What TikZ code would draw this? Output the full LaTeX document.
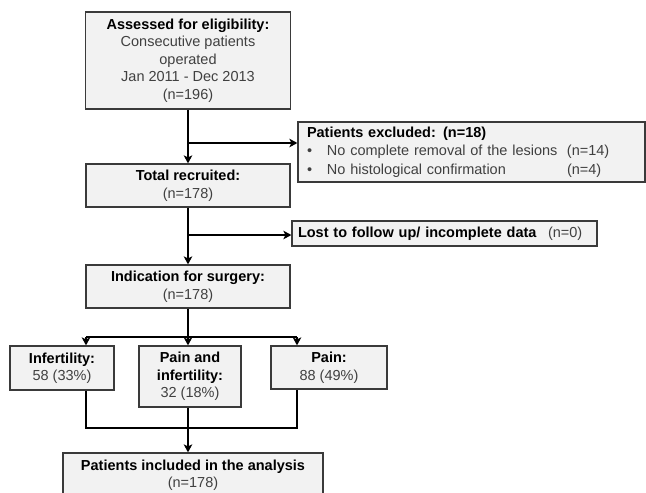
\documentclass[tikz,border=0pt]{standalone}
\usepackage{fontspec}
\setmainfont{Liberation Sans}
\usetikzlibrary{arrows.meta}
\definecolor{boxfill}{HTML}{F2F2F2}
\definecolor{boxdraw}{HTML}{3A3A3A}
\definecolor{txtgray}{HTML}{404040}
\begin{document}
\begin{tikzpicture}[x=1pt,y=-1pt,
  box/.style={draw=boxdraw,fill=boxfill,line width=1.2pt,inner sep=0pt,align=center,
    text=txtgray,font=\fontsize{14.5}{17.5}\selectfont},
  conn/.style={line width=1.8pt,black},
  arr/.style={conn,-{Stealth[length=8pt,width=8.5pt,inset=2pt]}}]
\useasboundingbox (0,0) rectangle (646,493);
\clip (0,0) rectangle (646,493);
\fill[white] (0,0) rectangle (646,493);

\node[box,minimum width=205,minimum height=97] (A) at (188,60.5)
  {\textcolor{black}{\textbf{Assessed for eligibility:}}\\Consecutive patients\\operated\\Jan 2011 - Dec 2013\\(n=196)};
\node[box,minimum height=60,text width=329,inner xsep=9pt,align=left,
  font=\fontsize{14.5}{18.5}\selectfont] (Ex) at (471.5,152)
  {\renewcommand{\arraystretch}{1.0}\begin{tabular}{@{}p{20pt}@{}p{240pt}@{}l@{}}
  \multicolumn{3}{@{}l@{}}{\textcolor{black}{\textbf{Patients excluded: (n=18)}}}\\
  \textbullet & No complete removal of the lesions & (n=14)\\
  \textbullet & No histological confirmation & (n=4)
  \end{tabular}};
\node[box,minimum width=204,minimum height=43] (B) at (188,185.5)
  {\textcolor{black}{\textbf{Total recruited:}}\\(n=178)};
\node[box,minimum height=25,text width=293,inner xsep=6pt,align=left] (L) at (444.5,233.5)
  {\makebox[250pt][l]{\textcolor{black}{\textbf{Lost to follow up/ incomplete data}}}(n=0)};
\node[box,minimum width=204,minimum height=43] (C) at (188,286.5)
  {\textcolor{black}{\textbf{Indication for surgery:}}\\(n=178)};
\node[box,minimum width=104,minimum height=44] (I) at (62,368)
  {\textcolor{black}{\textbf{Infertility:}}\\58 (33\%)};
\node[box,minimum width=102,minimum height=61] (P) at (190,376.5)
  {\textcolor{black}{\textbf{Pain and}}\\\textcolor{black}{\textbf{infertility:}}\\32 (18\%)};
\node[box,minimum width=116,minimum height=43] (Q) at (329,367.5)
  {\textcolor{black}{\textbf{Pain:}}\\88 (49\%)};
\node[box,minimum width=260,minimum height=44] (F) at (193,475)
  {\textcolor{black}{\textbf{Patients included in the analysis}}\\(n=178)};

\coordinate (j1) at (188,143);
\coordinate (j2) at (188,235);
\coordinate (s) at (188,337);
\coordinate (sl) at (86,337);
\coordinate (sr) at (297,337);
\coordinate (ml) at (86,428);
\coordinate (mr) at (297,428);

\draw[arr] (A) -- (B);
\draw[arr] (j1) -- (j1 -| Ex.west);
\draw[arr] (B) -- (C);
\draw[arr] (j2) -- (j2 -| L.west);
\draw[conn] (C.south) -- (s);
\draw[conn] (sl) -- (sr);
\draw[arr] (sl) -- (sl |- I.north);
\draw[arr] (s) -- (s |- P.north);
\draw[arr] (sr) -- (sr |- Q.north);
\draw[conn] (ml |- I.south) -- (ml) -- (mr) -- (mr |- Q.south);
\draw[arr] (s |- P.south) -- (s |- F.north);
\end{tikzpicture}
\end{document}
